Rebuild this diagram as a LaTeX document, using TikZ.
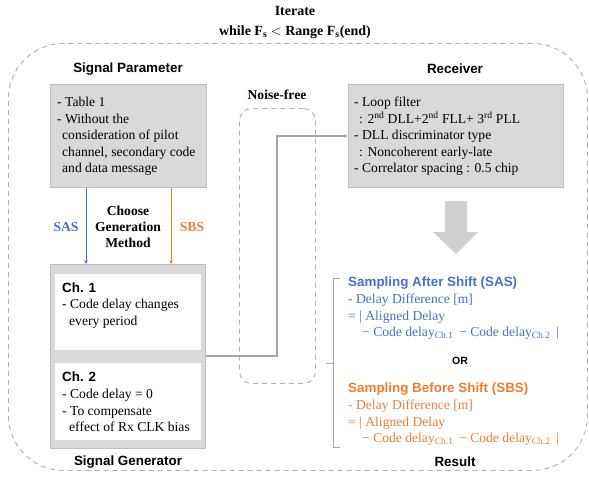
\documentclass[tikz,border=0pt]{standalone}
\usepackage{fontspec}
\setmainfont{Liberation Serif}
\newfontfamily\hfont{Liberation Sans}
\usetikzlibrary{arrows.meta,calc}
\definecolor{boxfill}{HTML}{D9D9D9}
\definecolor{boxline}{HTML}{BFBFBF}
\definecolor{conn}{HTML}{A6A6A6}
\definecolor{dashc}{HTML}{AFAFAF}
\definecolor{sasblue}{HTML}{4472C4}
\definecolor{sbsorange}{HTML}{ED7D31}
\definecolor{bigarrow}{HTML}{D0D0D0}
\tikzset{
  graybox/.style={draw=boxline,fill=boxfill,line width=1.2pt,inner sep=0pt,anchor=north west},
  whitebox/.style={fill=white,draw=none,inner sep=0pt,anchor=north west},
  heading/.style={font=\hfont\bfseries\fontsize{13.4}{15}\selectfont,inner sep=0pt},
  serifhead/.style={font=\bfseries\fontsize{13.6}{17}\selectfont,inner sep=0pt,align=center},
  body/.style={font=\fontsize{13.6}{16.5}\selectfont,inner sep=0pt,align=left,anchor=north west},
  dashbox/.style={draw=dashc,dash pattern=on 5pt off 4pt,line width=0.9pt},
  tip/.style={-{Stealth[length=4pt,width=3.5pt]}}
}
\begin{document}
\begin{tikzpicture}[x=1pt,y=-1pt]
\useasboundingbox (0,0) rectangle (589,477);
% outer loop
\node[dashbox,rounded corners=55pt,minimum width=579pt,minimum height=427pt,anchor=north west,inner sep=0pt] (loop) at (8,43) {};
\node[serifhead,font=\bfseries\fontsize{14}{20}\selectfont] (iter) at (295,22) {Iterate\\while F\textsubscript{s} $<$ Range F\textsubscript{s}(end)};

% signal parameter
\node[heading] (sphead) at (128,69) {Signal Parameter};
\node[graybox,minimum width=156pt,minimum height=103pt] (spbox) at (50,84) {};
\node[body] (sptext) at (57,97) {- Table 1\\- Without the\\\hspace*{5pt}consideration of pilot\\\hspace*{5pt}channel, secondary code\\\hspace*{5pt}and data message};

% generation method
\coordinate (sasx) at (86,0);
\coordinate (sbsx) at (171,0);
\node[graybox,minimum width=155pt,minimum height=184pt] (sgbox) at (50,264) {};
\draw[sasblue,line width=1pt,tip] (spbox.south -| sasx) -- (sgbox.north -| sasx);
\draw[sbsorange,line width=1pt,tip] (spbox.south -| sbsx) -- (sgbox.north -| sbsx);
\node[font=\bfseries\fontsize{13.6}{15}\selectfont,text=sasblue,inner sep=0pt] (sas) at (66,227) {SAS};
\node[font=\bfseries\fontsize{13.6}{15}\selectfont,text=sbsorange,inner sep=0pt] (sbs) at (192,227) {SBS};
\node[serifhead,font=\bfseries\fontsize{13.6}{16}\selectfont] (choose) at (128,227) {Choose\\Generation\\Method};

% signal generator
\node[whitebox,minimum width=146pt,minimum height=76pt] (ch1) at (55,274) {};
\node[whitebox,minimum width=146pt,minimum height=77pt] (ch2) at (55,363) {};
\node[heading,anchor=west] (ch1h) at (62,288) {Ch. 1};
\node[body] (ch1t) at (62,299) {- Code delay changes\\\hspace*{7pt}every period};
\node[heading,anchor=west] (ch2h) at (62,377) {Ch. 2};
\node[body] (ch2t) at (62,389) {- Code delay = 0\\- To compensate\\\hspace*{7pt}effect of Rx CLK bias};
\node[heading] (sghead) at (128,462) {Signal Generator};

% noise-free
\node[dashbox,rounded corners=12pt,minimum width=76pt,minimum height=275pt,anchor=north west,inner sep=0pt] (nf) at (239,108) {};
\node[serifhead] (nfhead) at (277,95) {Noise-free};

% receiver
\node[heading] (rxhead) at (455,69) {Receiver};
\node[graybox,minimum width=215pt,minimum height=103pt] (rx) at (348,84) {};
\node[body] (rxt) at (354,97) {- Loop filter\\\hspace*{5pt}: 2\textsuperscript{nd} DLL+2\textsuperscript{nd} FLL+ 3\textsuperscript{rd} PLL\\- DLL discriminator type\\\hspace*{5pt}: Noncoherent early-late\\- Correlator spacing : 0.5 chip};

% connector generator -> receiver
\coordinate (midy) at (0,356);
\coordinate (dlly) at (0,136);
\coordinate (turnx) at (277,0);
\draw[conn,line width=1.2pt,tip] (sgbox.east |- midy) -- (turnx |- midy) -- (turnx |- dlly) -- (rx.west |- dlly);

% big arrow
\fill[bigarrow] (445,201) -- (467,201) -- (467,232) -- (478,232) -- (456,254) -- (433,232) -- (445,232) -- cycle;

% bracket
\draw[conn,line width=0.8pt] (340,278) -- (333,278) -- (333,447) -- (340,447);
\draw[conn,line width=0.8pt] (333,363) -- (326,363);

% results
\node[heading,anchor=west,text=sasblue] (sash) at (348,283) {Sampling After Shift (SAS)};
\node[body,text=sasblue] (sast) at (348,294) {- Delay Difference [m]\\= | Aligned Delay\\\hspace*{14pt}− Code delay\textsubscript{Ch.1} \,− Code delay\textsubscript{Ch.2}\, |};
\node[font=\hfont\bfseries\fontsize{10.5}{12}\selectfont,inner sep=0pt] (or) at (460,361) {OR};
\node[heading,anchor=west,text=sbsorange] (sbsh) at (348,389) {Sampling Before Shift (SBS)};
\node[body,text=sbsorange] (sbst) at (348,400) {- Delay Difference [m]\\= | Aligned Delay\\\hspace*{14pt}− Code delay\textsubscript{Ch.1} \,− Code delay\textsubscript{Ch.2}\, |};
\node[heading] (reshead) at (455,462) {Result};
\end{tikzpicture}
\end{document}
